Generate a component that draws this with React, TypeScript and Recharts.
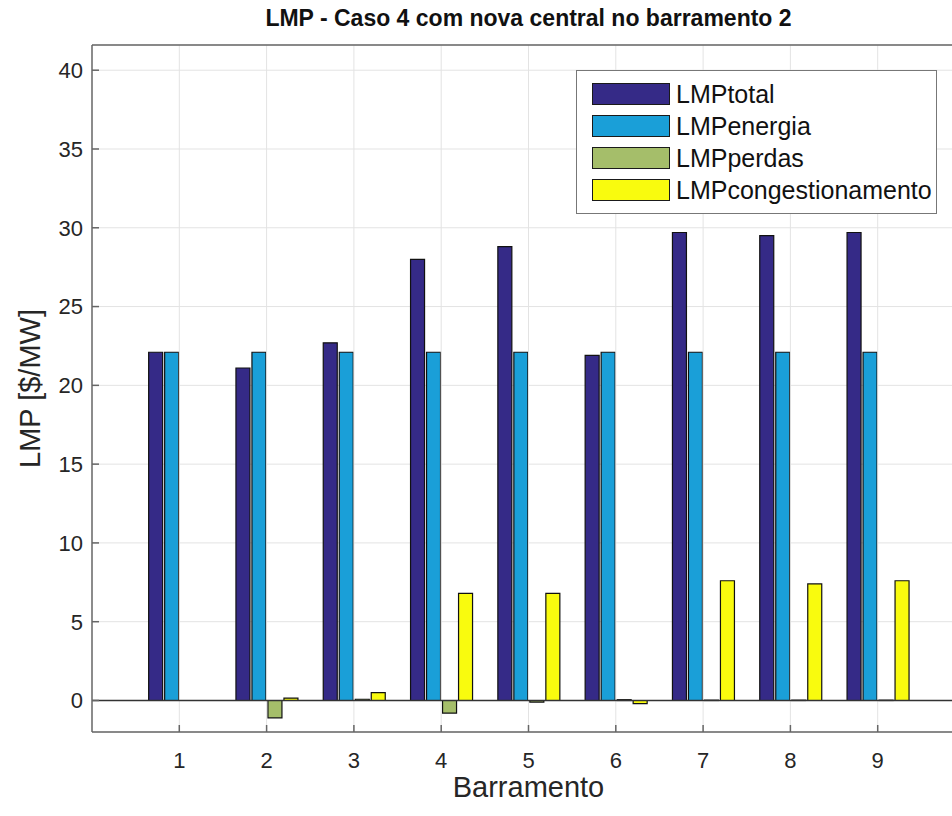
import React from "react";
import {
  BarChart,
  Bar,
  XAxis,
  YAxis,
  CartesianGrid,
  ReferenceLine,
  Legend,
} from "recharts";

const barramentos = ["1", "2", "3", "4", "5", "6", "7", "8", "9"];
const lmpTotal = [22.1, 21.1, 22.7, 28.0, 28.8, 21.9, 29.7, 29.5, 29.7];
const lmpEnergia = [22.1, 22.1, 22.1, 22.1, 22.1, 22.1, 22.1, 22.1, 22.1];
const lmpPerdas = [0, -1.1, 0.08, -0.8, -0.1, 0.05, 0.02, 0.02, 0.02];
const lmpCongestionamento = [0, 0.15, 0.5, 6.8, 6.8, -0.2, 7.6, 7.4, 7.6];
const yTicks = [0, 5, 10, 15, 20, 25, 30, 35, 40];

const series = [
  { key: "LMPtotal", color: "#352a87" },
  { key: "LMPenergia", color: "#1a9fd8" },
  { key: "LMPperdas", color: "#a5be6a" },
  { key: "LMPcongestionamento", color: "#f9fb0e" },
];

const data = barramentos.map((b, i) => ({
  name: b,
  LMPtotal: lmpTotal[i],
  LMPenergia: lmpEnergia[i],
  LMPperdas: lmpPerdas[i],
  LMPcongestionamento: lmpCongestionamento[i],
}));

const font = "'Liberation Sans', Arial, Helvetica, sans-serif";
const axisColor = "#666";
const textColor = "#262626";

function LegendBox(props: any) {
  const order = series.map((s) => s.key);
  const payload = [...(props.payload ?? [])].sort(
    (a: any, b: any) => order.indexOf(a.dataKey) - order.indexOf(b.dataKey)
  );
  return (
    <div
      style={{
        border: "1.5px solid #777",
        background: "#fff",
        padding: "7px 4px 7px 15px",
        fontFamily: font,
      }}
    >
      {payload.map((p: any) => (
        <div
          key={p.value}
          style={{ display: "flex", alignItems: "center", height: 32 }}
        >
          <span
            style={{
              display: "inline-block",
              width: 76,
              height: 20,
              background: p.color,
              border: "1.5px solid #1a1a1a",
              marginRight: 6,
            }}
          />
          <span style={{ fontSize: 25, color: "#111", lineHeight: "26px" }}>
            {p.value}
          </span>
        </div>
      ))}
    </div>
  );
}

export default function App() {
  return (
    <div
      style={{
        position: "absolute",
        left: 0,
        top: 0,
        width: 952,
        height: 816,
        overflow: "hidden",
        background: "#fff",
        fontFamily: font,
      }}
    >
      <div
        style={{
          position: "absolute",
          left: 92,
          width: 873,
          top: 5,
          textAlign: "center",
          fontWeight: "bold",
          fontSize: 23,
          color: "#111",
        }}
      >
        LMP - Caso 4 com nova central no barramento 2
      </div>
      <BarChart
        width={1010}
        height={816}
        data={data}
        margin={{ top: 44, right: 45, left: 32, bottom: 14 }}
        barSize={14}
        barGap={2}
      >
        <CartesianGrid vertical={false} stroke="#e3e3e3" />
        {barramentos.map((b) => (
          <ReferenceLine key={b} x={b} stroke="#e3e3e3" />
        ))}
        <XAxis
          dataKey="name"
          height={70}
          padding={{ left: 43.65, right: 43.65 }}
          tickSize={-7}
          tickMargin={27}
          stroke={axisColor}
          strokeWidth={1.5}
          tick={{ fill: textColor, fontSize: 22, fontFamily: font }}
          label={{
            value: "Barramento",
            position: "insideBottom",
            offset: 5,
            fill: textColor,
            fontSize: 29,
            fontFamily: font,
          }}
        />
        <XAxis
          xAxisId="top"
          dataKey="name"
          orientation="top"
          height={1}
          padding={{ left: 43.65, right: 43.65 }}
          tickSize={-7}
          tick={false}
          stroke={axisColor}
          strokeWidth={1.5}
        />
        <YAxis
          width={60}
          domain={[-2, 41.6]}
          ticks={yTicks}
          allowDataOverflow
          tickSize={-7}
          tickMargin={16}
          stroke={axisColor}
          strokeWidth={1.5}
          tick={{ fill: textColor, fontSize: 22, fontFamily: font }}
          label={{
            value: "LMP [$/MW]",
            angle: -90,
            position: "insideLeft",
            offset: -2,
            fill: textColor,
            fontSize: 29,
            fontFamily: font,
            style: { textAnchor: "middle" },
          }}
        />
        <ReferenceLine y={0} stroke="#333" strokeWidth={1.5} />
        <Legend
          layout="horizontal"
          verticalAlign="middle"
          align="center"
          content={LegendBox}
          wrapperStyle={{ left: 576, top: 70, width: "auto" }}
        />
        {series.map((s) => (
          <Bar
            key={s.key}
            dataKey={s.key}
            fill={s.color}
            stroke="#111"
            strokeWidth={1.2}
            isAnimationActive={false}
          />
        ))}
      </BarChart>
    </div>
  );
}
